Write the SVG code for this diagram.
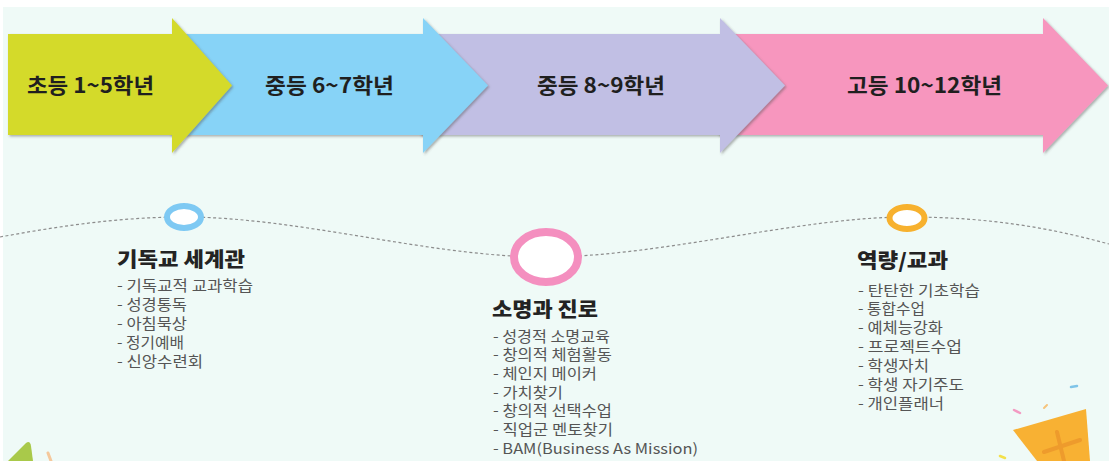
<svg xmlns="http://www.w3.org/2000/svg" width="1109" height="461" viewBox="0 0 1109 461">
  <defs>
    <filter id="headShadow" x="-10%" y="-10%" width="130%" height="130%">
      <feDropShadow dx="1.5" dy="1.5" stdDeviation="1.2" flood-color="#555" flood-opacity="0.45"/>
    </filter>
    <style>
      .stage-label { font-family: "Noto Sans CJK KR", "Noto Sans", sans-serif; font-size: 21px; font-weight: 700; fill: #1f1f1f; }
      .topic-title { font-family: "Noto Sans CJK KR", "Noto Sans", sans-serif; font-size: 20px; font-weight: 900; fill: #232323; }
      .topic-item { font-family: "Noto Sans CJK KR", "Noto Sans", sans-serif; font-size: 14.5px; font-weight: 400; fill: #555555; }
      .ring { fill: #ffffff; }
      .path-line { fill: none; stroke: #8c8c8c; stroke-width: 1.2; stroke-dasharray: 3 2.5; }
    </style>
  </defs>

  <!-- page background -->
  <rect x="0" y="0" width="1109" height="461" fill="#ffffff"/>
  <rect x="3" y="7" width="1106" height="454" fill="#effaf7"/>

  <!-- grade stages, drawn back to front so each head overlaps the next body -->
  <g id="stage-high-10-12">
    <path d="M 718 34 L 1043 34 L 1043 18 L 1108 85.5 L 1043 153 L 1043 135 L 718 135 Z" fill="#f796be" filter="url(#headShadow)"/>
    <text class="stage-label" x="847" y="93" textLength="155" lengthAdjust="spacingAndGlyphs">고등 10~12학년</text>
  </g>
  <g id="stage-middle-8-9">
    <path d="M 420 34 L 720 34 L 720 18 L 785 85.5 L 720 153 L 720 135 L 420 135 Z" fill="#c1bfe4" filter="url(#headShadow)"/>
    <text class="stage-label" x="537" y="93" textLength="128" lengthAdjust="spacingAndGlyphs">중등 8~9학년</text>
  </g>
  <g id="stage-middle-6-7">
    <path d="M 170 34 L 423 34 L 423 18 L 488 85.5 L 423 153 L 423 135 L 170 135 Z" fill="#87d3f7" filter="url(#headShadow)"/>
    <text class="stage-label" x="265" y="93" textLength="129" lengthAdjust="spacingAndGlyphs">중등 6~7학년</text>
  </g>
  <g id="stage-elementary-1-5">
    <path d="M 8 34 L 172 34 L 172 18 L 232 85.5 L 172 153 L 172 135 L 8 135 Z" fill="#d4da2b" filter="url(#headShadow)"/>
    <text class="stage-label" x="27" y="93" textLength="127" lengthAdjust="spacingAndGlyphs">초등 1~5학년</text>
  </g>

  <!-- dashed path linking the three topics -->
  <g id="connectors">
    <path class="path-line" d="M 0 237 C 60 226, 120 217, 184 217 C 300 217, 430 257, 545 257 C 660 257, 800 217, 907 217 C 990 217, 1050 228, 1109 244"/>
  </g>

  <!-- topic: Christian worldview -->
  <g id="topic-worldview">
    <ellipse class="ring" cx="184" cy="217" rx="17" ry="11" stroke="#7ec9f3" stroke-width="6"/>
    <text class="topic-title" x="117" y="267" textLength="128" lengthAdjust="spacingAndGlyphs">기독교 세계관</text>
    <text class="topic-item" x="117" y="291" textLength="136" lengthAdjust="spacingAndGlyphs">- 기독교적 교과학습</text>
    <text class="topic-item" x="117" y="310" textLength="70" lengthAdjust="spacingAndGlyphs">- 성경통독</text>
    <text class="topic-item" x="117" y="329" textLength="70" lengthAdjust="spacingAndGlyphs">- 아침묵상</text>
    <text class="topic-item" x="117" y="348" textLength="67" lengthAdjust="spacingAndGlyphs">- 정기예배</text>
    <text class="topic-item" x="117" y="367" textLength="86" lengthAdjust="spacingAndGlyphs">- 신앙수련회</text>
  </g>

  <!-- topic: calling and career -->
  <g id="topic-calling">
    <ellipse class="ring" cx="546" cy="257" rx="32" ry="25" stroke="#f48fbf" stroke-width="8"/>
    <text class="topic-title" x="492" y="317" textLength="106" lengthAdjust="spacingAndGlyphs">소명과 진로</text>
    <text class="topic-item" x="493" y="342" textLength="117" lengthAdjust="spacingAndGlyphs">- 성경적 소명교육</text>
    <text class="topic-item" x="493" y="360" textLength="119" lengthAdjust="spacingAndGlyphs">- 창의적 체험활동</text>
    <text class="topic-item" x="493" y="379" textLength="104" lengthAdjust="spacingAndGlyphs">- 체인지 메이커</text>
    <text class="topic-item" x="493" y="398" textLength="70" lengthAdjust="spacingAndGlyphs">- 가치찾기</text>
    <text class="topic-item" x="493" y="416" textLength="119" lengthAdjust="spacingAndGlyphs">- 창의적 선택수업</text>
    <text class="topic-item" x="493" y="435" textLength="120" lengthAdjust="spacingAndGlyphs">- 직업군 멘토찾기</text>
    <text class="topic-item" x="493" y="454" textLength="205" lengthAdjust="spacingAndGlyphs">- BAM(Business As Mission)</text>
  </g>

  <!-- topic: competencies and subjects -->
  <g id="topic-competency">
    <ellipse class="ring" cx="907" cy="218" rx="17.5" ry="11" stroke="#f7b12e" stroke-width="6"/>
    <text class="topic-title" x="857" y="268" textLength="91" lengthAdjust="spacingAndGlyphs">역량/교과</text>
    <text class="topic-item" x="858" y="296" textLength="122" lengthAdjust="spacingAndGlyphs">- 탄탄한 기초학습</text>
    <text class="topic-item" x="858" y="314" textLength="67" lengthAdjust="spacingAndGlyphs">- 통합수업</text>
    <text class="topic-item" x="858" y="333" textLength="85" lengthAdjust="spacingAndGlyphs">- 예체능강화</text>
    <text class="topic-item" x="858" y="352" textLength="104" lengthAdjust="spacingAndGlyphs">- 프로젝트수업</text>
    <text class="topic-item" x="858" y="371" textLength="71" lengthAdjust="spacingAndGlyphs">- 학생자치</text>
    <text class="topic-item" x="858" y="390" textLength="106" lengthAdjust="spacingAndGlyphs">- 학생 자기주도</text>
    <text class="topic-item" x="858" y="409" textLength="86" lengthAdjust="spacingAndGlyphs">- 개인플래너</text>
  </g>

  <!-- corner decorations -->
  <path d="M 8 461 L 26 443 Q 30 440 31 446 L 33 461 Z" fill="#a9c94a"/>
  <path d="M 48 453 L 51 461" stroke="#f5c89c" stroke-width="3" stroke-linecap="round"/>

  <path d="M 1013 430 L 1086 409 L 1090 461 L 1037 461 Z" fill="#f8b133"/>
  <path d="M 1057 432 L 1064 461 M 1044 452 L 1080 440" stroke="#ee9b2c" stroke-width="4" stroke-linecap="round" fill="none"/>
  <path d="M 1014 410 L 1020 413" stroke="#f39ac2" stroke-width="2.5" stroke-linecap="round"/>
  <path d="M 1044 408 L 1047 405" stroke="#f6c47c" stroke-width="2" stroke-linecap="round"/>
  <path d="M 1071 387 L 1077 386" stroke="#7fc4e8" stroke-width="2.5" stroke-linecap="round"/>
  <path d="M 1000 456 L 1005 458" stroke="#f3e04a" stroke-width="2.5" stroke-linecap="round"/>
</svg>
